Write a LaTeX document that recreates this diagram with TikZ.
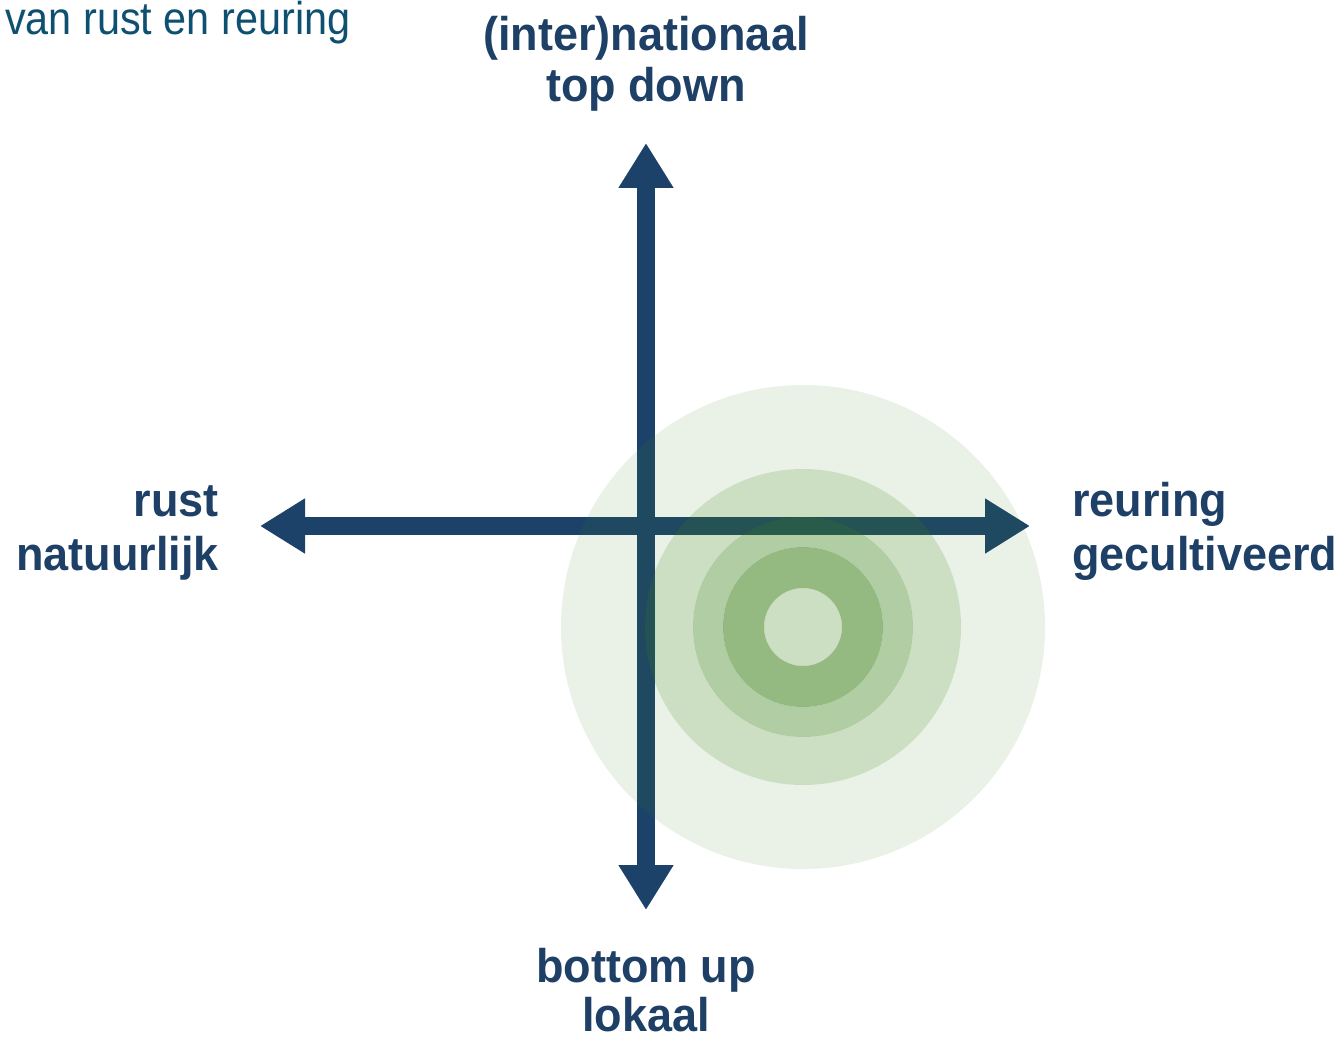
\documentclass[tikz,border=0pt]{standalone}
\usepackage{fontspec}
\setmainfont{Liberation Sans}
\usetikzlibrary{arrows.meta}
\definecolor{navy}{RGB}{28,66,106}
\definecolor{labelblue}{RGB}{30,64,102}
\definecolor{titleblue}{RGB}{14,80,112}
\definecolor{ringgreen}{RGB}{60,130,25}
\tikzset{
  axis/.style={draw=navy, line width=18pt, {Triangle[length=45pt,width=52pt]}-{Triangle[length=45pt,width=52pt]}},
  lbl/.style={inner sep=0pt, text=labelblue, font=\fontsize{45}{54}\selectfont\bfseries, yscale=1.05, transform shape},
  ring/.style={fill=ringgreen, even odd rule}
}
\begin{document}
\begin{tikzpicture}[x=1pt,y=-1pt]
\useasboundingbox (0,0) rectangle (1341,1040);
% axes
\coordinate (top) at (646,143);
\coordinate (bottom) at (646,910);
\coordinate (left) at (260,526);
\coordinate (right) at (1030,526);
\draw[axis] (top) -- (bottom);
\draw[axis] (left) -- (right);
% rings
\coordinate (c) at (803,627);
\fill[ring, fill opacity=0.11] (c) circle[radius=242pt] (c) circle[radius=158pt];
\fill[ring, fill opacity=0.26] (c) circle[radius=158pt] (c) circle[radius=110pt];
\fill[ring, fill opacity=0.40] (c) circle[radius=110pt] (c) circle[radius=80pt];
\fill[ring, fill opacity=0.55] (c) circle[radius=80pt] (c) circle[radius=39pt];
\fill[ring, fill opacity=0.26] (c) circle[radius=39pt];
% title
\node[inner sep=0pt, anchor=base west, text=titleblue, font=\fontsize{46}{56}\selectfont, xscale=0.9, transform shape] (title) at (5,35) {van rust en reuring};
% labels
\node[lbl, anchor=base] (t1) at (646,51) {(inter)nationaal};
\node[lbl, anchor=base] (t2) at (646,102) {top down};
\node[lbl, anchor=base east] (l1) at (219,516) {rust};
\node[lbl, anchor=base east] (l2) at (219,570) {natuurlijk};
\node[lbl, anchor=base west] (r1) at (1072,516) {reuring};
\node[lbl, anchor=base west] (r2) at (1072,570) {gecultiveerd};
\node[lbl, anchor=base] (b1) at (646,982) {bottom up};
\node[lbl, anchor=base] (b2) at (646,1031) {lokaal};
\end{tikzpicture}
\end{document}
